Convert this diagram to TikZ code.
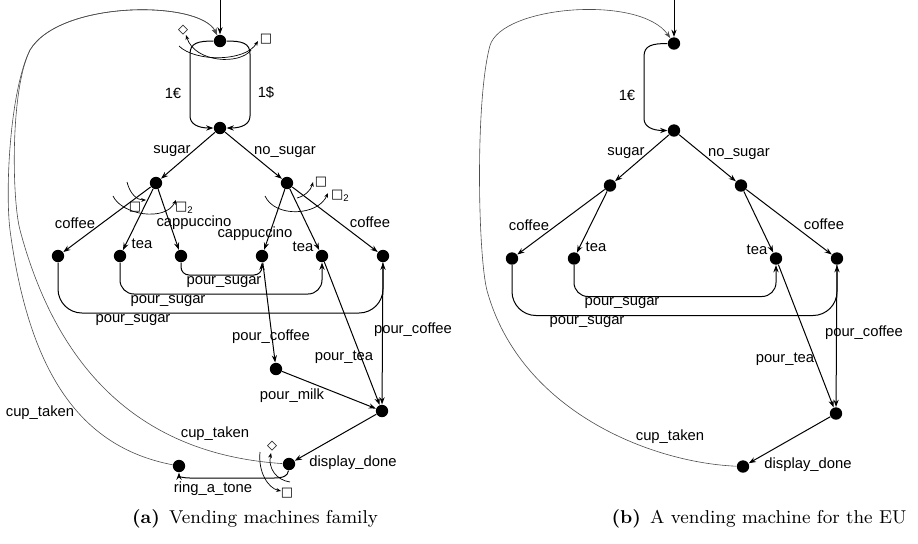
\documentclass[tikz,border=0pt]{standalone}
\usepackage{fontspec}
\newfontfamily\labfont{Liberation Sans}
\newfontfamily\symfont{DejaVu Sans}
\usetikzlibrary{arrows.meta}
\newcommand\mysqtwo{□\raisebox{-0.35ex}{\labfont\fontsize{4.8}{5}\selectfont 2}}
\begin{document}
\begin{tikzpicture}[x=0.5pt,y=-0.5pt,
  st/.style={circle,fill=black,draw=none,inner sep=0pt,minimum size=6.2pt},
  tr/.style={line width=0.5pt,-{Stealth[length=3.6pt,width=2.6pt]}},
  back/.style={line width=0.3pt,draw=black!70,-{Stealth[length=3.4pt,width=2.4pt]}},
  lbl/.style={font=\labfont\fontsize{7.4}{8.5}\selectfont,inner sep=0pt},
  mod/.style={line width=0.35pt,-{Stealth[length=2.4pt,width=1.9pt]}},
  msym/.style={font=\symfont\fontsize{6.5}{7}\selectfont,inner sep=0pt},
  captext/.style={font=\fontsize{9.3}{11}\selectfont,inner sep=0pt,anchor=base}]
\useasboundingbox (0,0) rectangle (918,543);

% ================= (a) =================
\coordinate (aI) at (220,0);
\node[st] (aS0) at (220,41) {};
\node[st] (aS1) at (220,128) {};
\node[st] (aA) at (156,183) {};
\node[st] (aB) at (287,183) {};
\node[st] (aC1) at (58,256) {};
\node[st] (aT1) at (120,256) {};
\node[st] (aP1) at (181,256) {};
\node[st] (aP2) at (262,256) {};
\node[st] (aT2) at (322,256) {};
\node[st] (aC2) at (383,256) {};
\node[st] (aPM) at (276,369) {};
\node[st] (aF) at (382,411) {};
\node[st] (aDD) at (289,464) {};
\node[st] (aR) at (179,466) {};

\draw[tr] (aI) -- (aS0);
\draw[tr] (aS0) .. controls (198,41) and (190,43) .. (190,54) -- (190,116) .. controls (190,124) and (198,128) .. (aS1);
\draw[tr] (aS0) .. controls (242,41) and (250,43) .. (250,54) -- (250,116) .. controls (250,124) and (242,128) .. (aS1);
\node[lbl] (aL1) at (173,93) {1€};
\node[lbl] (aL2) at (266,93) {1\$};
\draw[mod] (251,50) .. controls (240,65) and (195,63) .. (186,35);
\draw[mod] (179,46) .. controls (195,62) and (245,62) .. (258,41);
\node[msym] (aM1) at (183,30) {◇};
\node[msym] (aM2) at (266,39) {□};

\draw[tr] (aS1) -- (aA);
\draw[tr] (aS1) -- (aB);
\node[lbl] (aL3) at (172,151) {sugar};
\node[lbl] (aL4) at (285,152) {no\_sugar};

\draw[tr] (aA) -- (aC1);
\draw[tr] (aA) -- (aT1);
\draw[tr] (aA) -- (aP1);
\draw[tr] (aB) -- (aP2);
\draw[tr] (aB) -- (aT2);
\draw[tr] (aB) -- (aC2);
\node[lbl] (aL5) at (75,223) {coffee};
\node[lbl] (aL6) at (142,244) {tea};
\node[lbl] (aL7) at (194,223) {cappuccino};
\node[lbl] (aL8) at (255,234) {cappuccino};
\node[lbl] (aL9) at (303,247) {tea};
\node[lbl] (aL10) at (370,222) {coffee};

\draw[mod] (127,182) .. controls (130,194) and (137,200) .. (146,200);
\draw[mod] (113,196) .. controls (122,215) and (165,222) .. (176,200);
\node[msym] (aM3) at (135,207) {□};
\node[msym] (aM4) at (184,208) {\mysqtwo};
\draw[mod] (297,198) .. controls (305,196) and (311,190) .. (313,182);
\draw[mod] (265,196) .. controls (275,218) and (318,216) .. (328,193);
\node[msym] (aM5) at (321,182) {□};
\node[msym] (aM6) at (340,196) {\mysqtwo};

\draw[tr,rounded corners=4pt] (aP1) -- (181,275) -- (262,275) -- (aP2);
\draw[tr,rounded corners=7pt] (aT1) -- (120,294) -- (322,294) -- (aT2);
\draw[tr,rounded corners=12pt] (aC1) -- (58,313) -- (383,313) -- (aC2);
\node[lbl] (aL11) at (224,282) {pour\_sugar};
\node[lbl] (aL12) at (168,301) {pour\_sugar};
\node[lbl] (aL13) at (133,320) {pour\_sugar};

\draw[tr] (aP2) -- (aPM);
\draw[tr] (aT2) -- (aF);
\draw[tr] (aC2) -- (aF);
\draw[tr] (aPM) -- (aF);
\draw[tr] (aF) -- (aDD);
\node[lbl] (aL14) at (271,337) {pour\_coffee};
\node[lbl] (aL15) at (344,357) {pour\_tea};
\node[lbl] (aL16) at (413,330) {pour\_coffee};
\node[lbl] (aL17) at (292,396) {pour\_milk};
\node[lbl] (aL18) at (353,463) {display\_done};

\draw[tr] (aDD) .. controls (288,476) and (283,478) .. (274,478) -- (190,478) .. controls (182,478) and (179,476) .. (aR);
\node[lbl] (aL19) at (213,489) {ring\_a\_tone};
\draw[mod] (290,482) .. controls (276,480) and (268,468) .. (271,453);
\draw[mod] (260,452) .. controls (258,472) and (268,488) .. (281,491);
\node[msym] (aM7) at (272,446) {◇};
\node[msym] (aM8) at (287,493) {□};

\draw[back] (aR) .. controls (85,448) and (30,380) .. (10,230) .. controls (5,190) and (10,90) .. (30,50) .. controls (60,0) and (200,0) .. (aS0);
\draw[back] (aDD) .. controls (150,455) and (60,380) .. (20,230) .. controls (12,200) and (10,90) .. (30,50) .. controls (60,0) and (200,0) .. (aS0);
\node[lbl] (aL20) at (215,434) {cup\_taken};
\node[lbl] (aL21) at (40,413) {cup\_taken};

\node[captext] (aCap) at (255,523) {\textbf{(a)}\enspace Vending machines family};

% ================= (b) =================
\begin{scope}[shift={(454,2.5)}]
\coordinate (bI) at (220,-2.5);
\node[st] (bS0) at (220,41) {};
\node[st] (bS1) at (220,128) {};
\node[st] (bA) at (156,183) {};
\node[st] (bB) at (287,183) {};
\node[st] (bC1) at (58,256) {};
\node[st] (bT1) at (120,256) {};
\node[st] (bT2) at (322,256) {};
\node[st] (bC2) at (383,256) {};
\node[st] (bF) at (382,411) {};
\node[st] (bDD) at (289,464) {};

\draw[tr] (bI) -- (bS0);
\draw[tr] (bS0) .. controls (198,41) and (190,43) .. (190,54) -- (190,116) .. controls (190,124) and (198,128) .. (bS1);
\node[lbl] (bL1) at (173,93) {1€};

\draw[tr] (bS1) -- (bA);
\draw[tr] (bS1) -- (bB);
\node[lbl] (bL3) at (172,151) {sugar};
\node[lbl] (bL4) at (285,152) {no\_sugar};

\draw[tr] (bA) -- (bC1);
\draw[tr] (bA) -- (bT1);
\draw[tr] (bB) -- (bT2);
\draw[tr] (bB) -- (bC2);
\node[lbl] (bL5) at (75,223) {coffee};
\node[lbl] (bL6) at (142,244) {tea};
\node[lbl] (bL9) at (303,247) {tea};
\node[lbl] (bL10) at (370,222) {coffee};

\draw[tr,rounded corners=7pt] (bT1) -- (120,294) -- (322,294) -- (bT2);
\draw[tr,rounded corners=12pt] (bC1) -- (58,313) -- (383,313) -- (bC2);
\node[lbl] (bL12) at (168,301) {pour\_sugar};
\node[lbl] (bL13) at (133,320) {pour\_sugar};

\draw[tr] (bT2) -- (bF);
\draw[tr] (bC2) -- (bF);
\draw[tr] (bF) -- (bDD);
\node[lbl] (bL15) at (331,357) {pour\_tea};
\node[lbl] (bL16) at (410,330) {pour\_coffee};
\node[lbl] (bL18) at (354,462) {display\_done};

\draw[back] (bDD) .. controls (196,460) and (66,408) .. (33,288) .. controls (24,253) and (21,98) .. (36,43) .. controls (48,3) and (186,-8) .. (bS0);
\node[lbl] (bL20) at (216,434) {cup\_taken};
\end{scope}

\node[captext] (bCap) at (759,523) {\textbf{(b)}\enspace A vending machine for the EU};
\end{tikzpicture}
\end{document}
